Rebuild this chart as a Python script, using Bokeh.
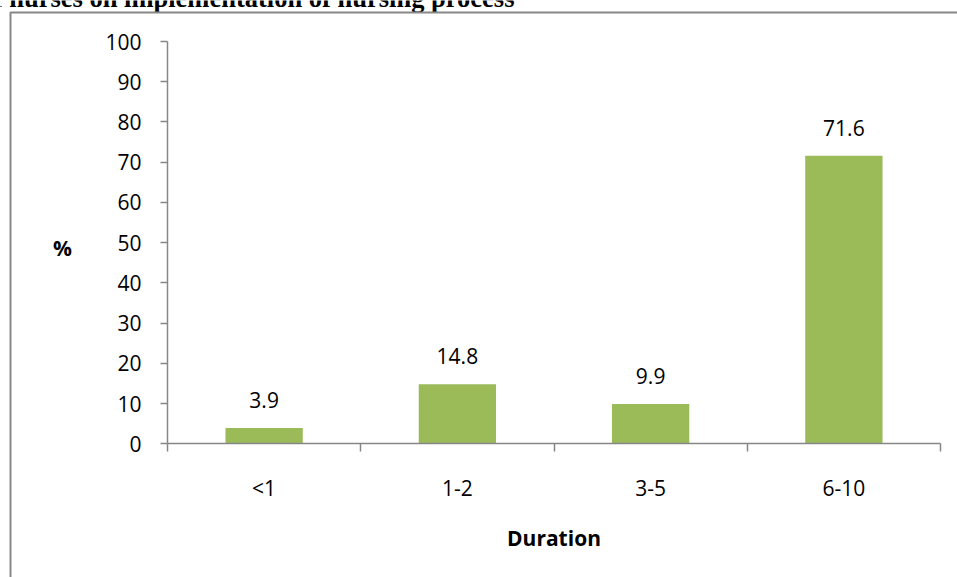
from bokeh.plotting import figure
from bokeh.models import Range1d, FixedTicker, Label, BoxAnnotation, ColumnDataSource
from bokeh.embed import file_html
from bokeh.resources import INLINE
from bokeh.core.properties import value

categories = ["<1", "1-2", "3-5", "6-10"]
percent = [3.9, 14.8, 9.9, 71.6]
y_ticks = list(range(0, 101, 10))

title_text = "of nurses on implementation of nursing process"
x_title = "Duration"
y_title = "%"

FONT = "Open Sans"
AXIS_GRAY = "#868686"
BAR_GREEN = "#9BBB59"

W, H = 957, 577
# pixel placement of the plotting area inside the canvas
PL, PR, PT, PB = 167, 940, 41, 443.3

n = len(categories)
ymax = 100
xs = (PR - PL) / n
ys = (PB - PT) / ymax
x_range = Range1d(-PL / xs, n + (W - PR) / xs)
y_range = Range1d(-(H - PB) / ys, ymax + PT / ys)

xpos = [i + 0.5 for i in range(n)]
bounds = list(range(n + 1))
src = ColumnDataSource(dict(x=xpos, top=percent,
                            label=[f"{v:.1f}" for v in percent]))

p = figure(width=W, height=H, output_backend="svg", toolbar_location=None,
           x_range=x_range, y_range=y_range, min_border=0)
p.outline_line_color = None
p.xgrid.grid_line_color = None
p.ygrid.grid_line_color = None
p.background_fill_color = "white"
p.border_fill_color = "white"

p.vbar(x="x", top="top", width=0.4, bottom=0, source=src,
       fill_color=BAR_GREEN, line_color=None)
p.text(x="x", y="top", text="label", source=src, text_align="center",
       text_baseline="alphabetic", y_offset=-28, text_font=value(FONT),
       text_font_size="21px", text_color="#000000")

# x axis
xa = p.xaxis[0]
xa.fixed_location = 0
xa.bounds = (0, n)
xa.ticker = FixedTicker(ticks=xpos, minor_ticks=bounds)
xa.major_label_overrides = {x: c for x, c in zip(xpos, categories)}
xa.major_tick_line_color = None
xa.major_tick_out = 0
xa.major_tick_in = 0
xa.minor_tick_line_color = AXIS_GRAY
xa.minor_tick_line_width = 1.5
xa.minor_tick_out = 8
xa.minor_tick_in = 0
xa.axis_line_color = AXIS_GRAY
xa.axis_line_width = 1.5
xa.major_label_text_font = FONT
xa.major_label_text_font_size = "21px"
xa.major_label_text_color = "#000000"
xa.major_label_standoff = 22
xa.axis_label = x_title
xa.axis_label_text_font = FONT
xa.axis_label_text_font_size = "21px"
xa.axis_label_text_font_style = "bold"
xa.axis_label_text_color = "#000000"
xa.axis_label_standoff = 19

# y axis
ya = p.yaxis[0]
ya.fixed_location = 0
ya.bounds = (0, ymax)
ya.ticker = FixedTicker(ticks=y_ticks, minor_ticks=[])
ya.major_tick_line_color = AXIS_GRAY
ya.major_tick_line_width = 1.5
ya.major_tick_out = 7
ya.major_tick_in = 0
ya.minor_tick_line_color = None
ya.axis_line_color = AXIS_GRAY
ya.axis_line_width = 1.5
ya.major_label_text_font = FONT
ya.major_label_text_font_size = "21px"
ya.major_label_text_color = "#000000"
ya.major_label_standoff = 19

p.add_layout(Label(x=62, y=247, x_units="canvas", y_units="canvas", text=y_title,
                   text_font=FONT, text_font_size="21px", text_font_style="bold",
                   text_align="center", text_baseline="middle", text_color="#000000"))

p.add_layout(Label(x=-20, y=-3, x_units="canvas", y_units="canvas", text=title_text,
                   text_font="Liberation Serif", text_font_size="26.5px",
                   text_font_style="bold", text_baseline="alphabetic",
                   text_color="#000000"))

p.add_layout(BoxAnnotation(left=10, right=3000, top=12, bottom=3000,
                           left_units="canvas", right_units="canvas",
                           top_units="canvas", bottom_units="canvas",
                           fill_alpha=0, line_alpha=1.0,
                           line_color="#888888", line_width=2))

open("out.html", "w").write(file_html(p, INLINE))
